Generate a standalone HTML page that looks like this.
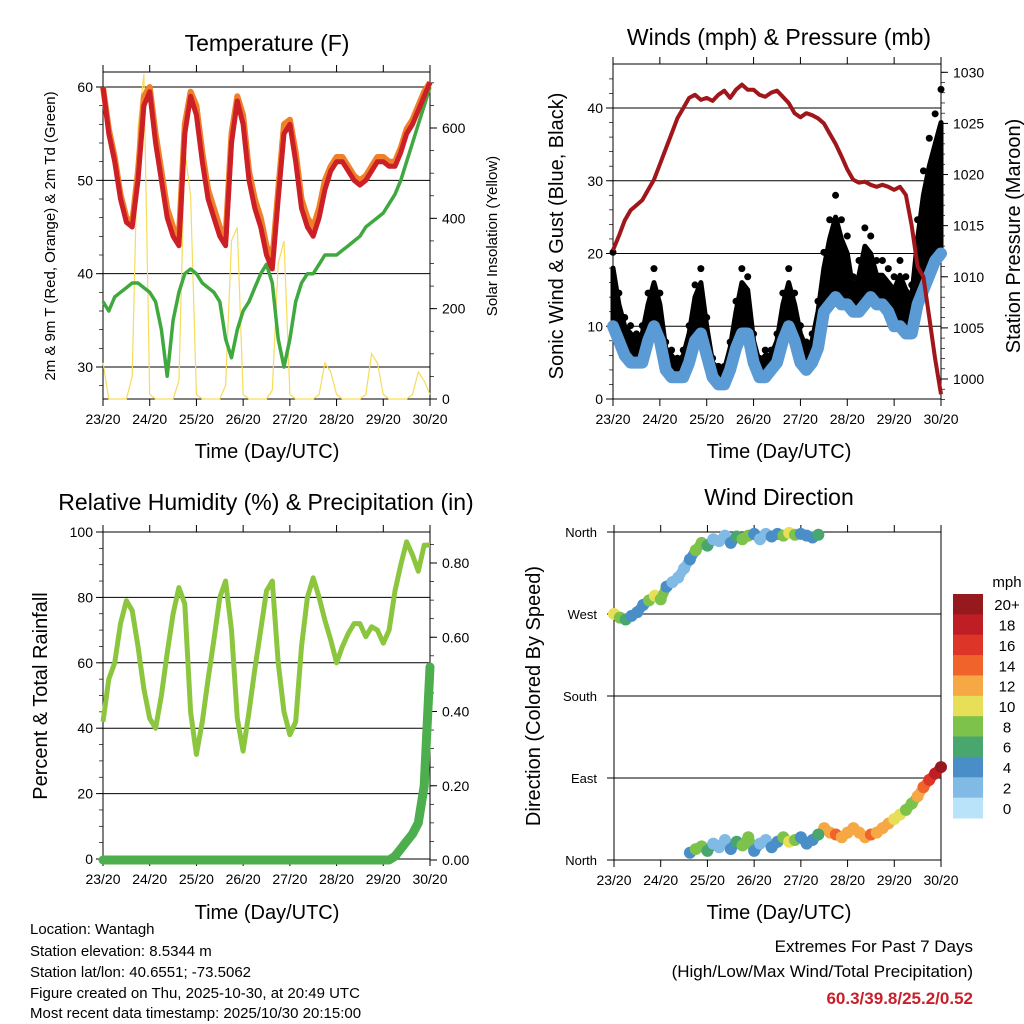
<!DOCTYPE html>
<html><head><meta charset="utf-8">
<style>
html,body{margin:0;padding:0;background:#fff;}
svg{display:block;font-family:"Liberation Sans",sans-serif;}
</style></head>
<body>
<svg id="c" width="1024" height="1024" viewBox="0 0 1024 1024" xmlns="http://www.w3.org/2000/svg">
<g id="static">
<text x="267" y="51" font-size="23" text-anchor="middle">Temperature (F)</text>
<text x="779" y="45" font-size="23" text-anchor="middle">Winds (mph) &amp; Pressure (mb)</text>
<text x="266" y="510" font-size="23" text-anchor="middle">Relative Humidity (%) &amp; Precipitation (in)</text>
<text x="779" y="505" font-size="23" text-anchor="middle">Wind Direction</text>
<text x="267" y="458" font-size="20" text-anchor="middle">Time (Day/UTC)</text>
<text x="779" y="458" font-size="20" text-anchor="middle">Time (Day/UTC)</text>
<text x="267" y="919" font-size="20" text-anchor="middle">Time (Day/UTC)</text>
<text x="779" y="919" font-size="20" text-anchor="middle">Time (Day/UTC)</text>
<text transform="translate(55,236) rotate(-90)" font-size="15" text-anchor="middle">2m &amp; 9m T (Red, Orange) &amp; 2m Td (Green)</text>
<text transform="translate(497,236) rotate(-90)" font-size="15" text-anchor="middle">Solar Insolation (Yellow)</text>
<text transform="translate(563,236) rotate(-90)" font-size="20" text-anchor="middle">Sonic Wind &amp; Gust (Blue, Black)</text>
<text transform="translate(1020,236) rotate(-90)" font-size="20" text-anchor="middle">Station Pressure (Maroon)</text>
<text transform="translate(47,696) rotate(-90)" font-size="20" text-anchor="middle">Percent &amp; Total Rainfall</text>
<text transform="translate(540,696) rotate(-90)" font-size="20" text-anchor="middle">Direction (Colored By Speed)</text>
<g font-size="15">
<text x="30" y="934">Location: Wantagh</text>
<text x="30" y="956">Station elevation: 8.5344 m</text>
<text x="30" y="977">Station lat/lon: 40.6551; -73.5062</text>
<text x="30" y="998">Figure created on Thu, 2025-10-30, at 20:49 UTC</text>
<text x="30" y="1018">Most recent data timestamp: 2025/10/30 20:15:00</text>
</g>
<g font-size="17" text-anchor="end">
<text x="973" y="952">Extremes For Past 7 Days</text>
<text x="973" y="977">(High/Low/Max Wind/Total Precipitation)</text>
<text x="973" y="1004" fill="#c8202a" font-weight="bold">60.3/39.8/25.2/0.52</text>
</g>
<text x="1007" y="587" font-size="15" text-anchor="middle">mph</text>
</g>
</svg>
<script>
const days = ["23/20","24/20","25/20","26/20","27/20","28/20","29/20","30/20"];
const temp2m = [60,55,52,48,45.5,45,50,58,59.5,54,50,46,44,43,55,59,57,52,48,46,44,43,54,58.5,56,50,47,45,42,40.5,48,55,56,52,47,45,44,46,49,51,52,52,51,50,49.5,50,51,52,52,51.5,51.5,53,55,56,57.5,59,60.5];
const temp9m = [60,55.5,52.5,48.5,46,45.5,51,59,60,55,51,47,45,44,56,59.5,58,53,49,47,45,44,55,59,57,51,48,46,43,41.5,49,56,56.5,53,48,46,45,47,50,51.5,52.5,52.5,51.5,50.5,50,50.5,51.5,52.5,52.5,52,52,53.5,55.5,56.5,58,59.5,60.5];
const dewpt = [37,36,37.5,38,38.5,39,39,38.5,38,37,34,29,35,38,40,40.5,40,39,38.5,38,37,33,31,34,36,37,38.5,40,41,39,33,30,33,37,39,40,40,41,42,42,42,42.5,43,43.5,44,45,45.5,46,46.5,47.5,48.5,50,52,54,56,58,60];
const solar = [80,0,0,0,0,50,600,720,10,0,0,0,0,40,550,450,10,0,0,0,0,30,350,380,10,0,0,0,0,20,300,350,10,0,0,0,0,10,80,60,10,0,0,0,0,10,100,80,10,0,0,0,0,10,60,40,10];
const gust = [18,13,10,9,8,9,13,16,13,7,6,5,6,9,14,16,10,5,4,4,7,12,16,15,8,5,6,6,8,13,16,13,9,7,8,12,18,22,25,22,20,15,17,21,20,17,17,16,15,17,15,14,22,28,32,35,38];
const wind = [10,8,6,5,5,5,8,10,8,4,3,3,3,5,8,9,6,3,2,2,4,7,9,9,5,3,3,4,5,8,10,8,5,4,5,7,12,13,14,13,13,12,12,13,14,13,13,12,10,10,9,9,13,15,17,19,20];
const pressure = [1012.6,1014,1015.5,1016.5,1017,1017.5,1018.5,1019.5,1021,1022.5,1024,1025.5,1026.5,1027.5,1027.8,1027.3,1027.5,1027.2,1027.8,1028.2,1027.5,1028.3,1028.8,1028.3,1028.3,1027.8,1027.6,1028,1028.2,1027.6,1027,1026,1025.6,1026,1025.8,1025.5,1025,1024,1023,1021.8,1020.5,1019.5,1019.2,1019.3,1019,1018.8,1019,1018.8,1018.5,1018.8,1018,1015,1011,1010,1006,1002,998.5];
const rh = [42,55,60,72,79,76,65,52,43,40,50,63,75,83,78,45,32,42,55,67,80,85,70,43,33,45,58,70,82,85,60,45,38,42,65,80,86,80,73,67,60,65,69,72,72,68,71,70,66,70,82,90,97,93,88,96,96];
const precip = [0,0,0,0,0,0,0,0,0,0,0,0,0,0,0,0,0,0,0,0,0,0,0,0,0,0,0,0,0,0,0,0,0,0,0,0,0,0,0,0,0,0,0,0,0,0,0,0,0,0,0.01,0.03,0.05,0.07,0.1,0.2,0.52];
const direction = [270,266,264,268,272,280,285,290,286,300,305,310,320,330,340,348,345,352,350,356,348,355,352,356,358,352,358,355,358,356,359,357,358,356,354,357,35,30,28,25,30,35,30,25,28,30,35,40,45,50,55,62,70,80,88,95,102];
const directionAlt = [null,null,null,null,null,null,null,null,null,null,null,null,null,8,12,15,10,18,14,22,12,20,16,25,10,18,22,14,20,25,20,22,25,18,22,28,null,null,null,null,null,null,null,null,null,null,null,null,null,null,null,null,null,null,null,null,null];
const speedLabels = ["20+","18","16","14","12","10","8","6","4","2","0"];
const speedColors = ["#961a1d","#bf1e25","#dd3527","#f0632b","#f6a845","#e6df57","#7dc24a","#48a66e","#4a8ec8","#80bae5","#b8e3f8"];

const svg = document.getElementById('c');
const NS = "http://www.w3.org/2000/svg";
function mk(tag, attrs, parent){const e=document.createElementNS(NS,tag);for(const k in attrs)e.setAttribute(k,attrs[k]);(parent||svg).appendChild(e);return e;}
function lin(d0,d1,r0,r1){return v=>r0+(v-d0)*(r1-r0)/(d1-d0);}
const N = temp2m.length;
function pts(xs,arr,ys){let s=[];arr.forEach((v,i)=>{if(v!==null)s.push(xs(i*3).toFixed(1)+","+ys(v).toFixed(1));});return s.join(" ");}

function panel(name,x0,x1,y0,y1,grid,ys,leftTicks,leftMinor,rightTicks,rightMinor,ys2,fmt2){
  const g=mk('g',{});
  
  
  const xs=lin(0,168,x0,x1);
  grid.forEach(v=>{const l=mk('line',{x1:x0,x2:x1,y1:ys(v),y2:ys(v),stroke:'#000','stroke-width':1},g);
    
    });
  days.forEach((d,i)=>{const x=xs(i*24);
    mk('line',{x1:x,x2:x,y1:y1,y2:y1+7,stroke:'#000'},g);
    mk('line',{x1:x,x2:x,y1:y0,y2:y0-7,stroke:'#000'},g);
    const t=mk('text',{x:x,y:y1+25,'font-size':14,'text-anchor':'middle'},g);t.textContent=d;
    
    });
  leftTicks.forEach(v=>{const y=ys(v);mk('line',{x1:x0-7,x2:x0,y1:y,y2:y,stroke:'#000'},g);
    const t=mk('text',{x:x0-10,y:y+5,'font-size':14,'text-anchor':'end'},g);t.textContent=v;
    
    });
  leftMinor.forEach(v=>{const y=ys(v);mk('line',{x1:x0-4,x2:x0,y1:y,y2:y,stroke:'#000','stroke-width':0.7},g);});
  if(rightTicks){rightTicks.forEach(v=>{const y=ys2(v);mk('line',{x1:x1,x2:x1+7,y1:y,y2:y,stroke:'#000'},g);
    const t=mk('text',{x:x1+12,y:y+5,'font-size':14},g);t.textContent=fmt2(v);
    
    });
   rightMinor.forEach(v=>{const y=ys2(v);mk('line',{x1:x1,x2:x1+4,y1:y,y2:y,stroke:'#000','stroke-width':0.7},g);});}
  mk('line',{x1:x0,x2:x1,y1:y0,y2:y0,stroke:'#000'},g);
  mk('line',{x1:x0,x2:x1,y1:y1,y2:y1,stroke:'#000'},g);
  mk('line',{x1:x0,x2:x0,y1:y0,y2:y1,stroke:'#000'},g);
  mk('line',{x1:x1,x2:x1,y1:y0,y2:y1,stroke:'#000'},g);
  return {g,xs};
}
function rng(a,b,s){const r=[];for(let v=a;v<=b+1e-9;v+=s)r.push(+v.toFixed(3));return r;}

let e;
// Temperature panel
const tY=lin(60,30,87,367), sY=lin(0,600,399,128);
const P1=panel('temperature-panel',103,430,72,399,[60,50,40,30],tY,[30,40,50,60],rng(28,61,2),[0,200,400,600],rng(0,700,50),sY,v=>v);
e=mk('polyline',{points:pts(P1.xs,solar,sY),fill:'none',stroke:'#f6dc5a','stroke-width':1.2},P1.g);


e=mk('polyline',{points:pts(P1.xs,dewpt,tY),fill:'none',stroke:'#3fa83f','stroke-width':3.5,'stroke-linejoin':'round'},P1.g);


e=mk('polyline',{points:pts(P1.xs,temp9m,tY),fill:'none',stroke:'#f07f2a','stroke-width':6,'stroke-linejoin':'round'},P1.g);


e=mk('polyline',{points:pts(P1.xs,temp2m,tY),fill:'none',stroke:'#cc1f26','stroke-width':5,'stroke-linejoin':'round'},P1.g);



// Wind panel
const wY=lin(0,40,399,108), pY=lin(1000,1030,379,72.3);
const P2=panel('wind-pressure-panel',613,941,64,399,[10,20,30,40],wY,[0,10,20,30,40],rng(0,45,2),[1000,1005,1010,1015,1020,1025,1030],rng(998,1030,1),pY,v=>v);
// gust band from wind up to gust
let band=[];
gust.forEach((v,i)=>band.push(P2.xs(i*3).toFixed(1)+","+wY(v).toFixed(1)));
for(let i=N-1;i>=0;i--)band.push(P2.xs(i*3).toFixed(1)+","+wY(wind[i]).toFixed(1));
e=mk('polygon',{points:band.join(" "),fill:'#000',stroke:'#000','stroke-width':5,'stroke-linejoin':'round'},P2.g);


gust.forEach((v,i)=>{const c=mk('circle',{cx:P2.xs(i*3),cy:wY(v*1.12),r:3.5,fill:'#000'},P2.g);

});
e=mk('polyline',{points:pts(P2.xs,wind,wY),fill:'none',stroke:'#5b9bd5','stroke-width':12,'stroke-linejoin':'round','stroke-linecap':'round'},P2.g);


e=mk('polyline',{points:pts(P2.xs,pressure,pY),fill:'none',stroke:'#a0161b','stroke-width':4,'stroke-linejoin':'round'},P2.g);



// RH panel
const hY=lin(0,100,859,532), rY=lin(0,0.8,860,563);
const P3=panel('humidity-panel',103,430,532,859,[0,20,40,60,80],hY,[0,20,40,60,80,100],rng(0,100,5),[0,0.2,0.4,0.6,0.8],rng(0,0.85,0.05),rY,v=>v.toFixed(2));
e=mk('polyline',{points:pts(P3.xs,rh,hY),fill:'none',stroke:'#8cc63f','stroke-width':5,'stroke-linejoin':'round'},P3.g);


e=mk('polyline',{points:pts(P3.xs,precip,rY),fill:'none',stroke:'#4cae4c','stroke-width':9,'stroke-linejoin':'round','stroke-linecap':'round'},P3.g);



// Wind direction panel
const dY=lin(0,360,860,532);
const P4=panel('wind-direction-panel',614,941,532,860,[0,90,180,270,360],dY,[],[],null,null,null,null);
const dirNames=[[360,'North'],[270,'West'],[180,'South'],[90,'East'],[0,'North']];
dirNames.forEach(([v,n])=>{const y=dY(v);mk('line',{x1:607,x2:614,y1:y,y2:y,stroke:'#000'},P4.g);
  const t=mk('text',{x:597,y:y+5,'font-size':13,'text-anchor':'end'},P4.g);t.textContent=n;
  
  });
function colorFor(s){let k=Math.min(10,Math.floor(s/2));return speedColors[10-k];}
[direction,directionAlt].forEach(arr=>{arr.forEach((v,i)=>{if(v===null)return;
  if(i<N-1&&arr[i+1]!==null&&Math.abs(arr[i+1]-v)<40){const l=mk('line',{x1:P4.xs(i*3),y1:dY(v),x2:P4.xs(i*3+3),y2:dY(arr[i+1]),stroke:colorFor(wind[i]),'stroke-width':10,'stroke-linecap':'round'},P4.g);
  
  }
  const c=mk('circle',{cx:P4.xs(i*3),cy:dY(v),r:6,fill:colorFor(wind[i])},P4.g);
  
  
});});

// colorbar
const cb=mk('g',{});


const bh=(818-594)/speedColors.length;
speedColors.forEach((c,i)=>{const r=mk('rect',{x:953,y:594+i*bh,width:30,height:bh+0.5,fill:c},cb);
  
  
  const t=mk('text',{x:1007,y:594+i*bh+bh/2+6,'font-size':15,'text-anchor':'middle'},cb);t.textContent=speedLabels[i];
  
  });
</script>
</body></html>
